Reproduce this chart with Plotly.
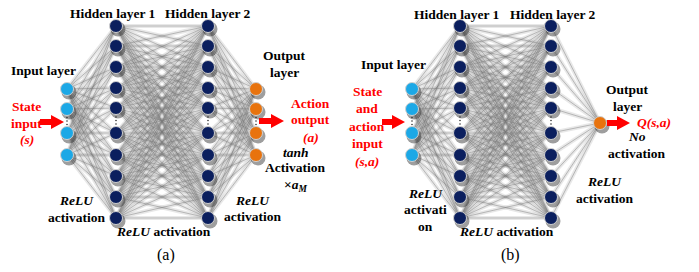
import plotly.graph_objects as go

# ---- network structure (pixel layout of the diagram) ----
HIDDEN_Y = [26, 46, 67, 88, 108, 133, 155, 176, 197, 218]
INPUT_Y = [89, 109, 133, 155]
OUTPUT_Y_A = [89, 109, 133, 155]
OUTPUT_Y_B = [123]

LAYER_X_A = [67, 116, 208, 256]
LAYER_X_B = [412, 460, 551, 600]

IN_COLOR = "#1ca8e6"
HID_COLOR = "#0b1f5e"
OUT_COLOR = "#e8730e"
RED = "#ff0000"
FONT = "Liberation Serif"

# arrows: (x_start, x_tip, y)
ARROWS = [(40, 64, 122), (259, 284, 121), (382, 405, 122), (607, 630, 123)]

# text labels: (x, y, text, color, size)
LABELS = [
    # panel (a)
    (113, 13, "Hidden layer 1", "black", 13.5),
    (208, 13, "Hidden layer 2", "black", 13.5),
    (43, 70, "Input layer", "black", 13.5),
    (284, 55, "Output", "black", 13.5),
    (284, 72, "layer", "black", 13.5),
    (26, 106, "State", RED, 13.5),
    (26, 123, "input", RED, 13.5),
    (27, 139, "<i>(s)</i>", RED, 13.5),
    (310, 103, "Action", RED, 13.5),
    (310, 119, "output", RED, 13.5),
    (311, 137, "<i>(a)</i>", RED, 13.5),
    (296, 152, "<i>tanh</i>", "black", 13.5),
    (295, 167, "Activation", "black", 13.5),
    (295, 185, "×<i>a</i><sub><i>M</i></sub>", "black", 13.5),
    (76, 200, "<i>ReLU</i>", "black", 13.5),
    (76, 217, "activation", "black", 13.5),
    (163, 231, "<i>ReLU</i> activation", "black", 13.5),
    (252, 200, "<i>ReLU</i>", "black", 13.5),
    (252, 216, "activation", "black", 13.5),
    # panel (b)
    (457, 14, "Hidden layer 1", "black", 13.5),
    (553, 14, "Hidden layer 2", "black", 13.5),
    (393, 64, "Input layer", "black", 13.5),
    (367, 91, "State", RED, 13.5),
    (367, 108, "and", RED, 13.5),
    (367, 126, "action", RED, 13.5),
    (367, 143, "input", RED, 13.5),
    (367, 161, "<i>(s,a)</i>", RED, 13.5),
    (627, 89, "Output", "black", 13.5),
    (627, 106, "layer", "black", 13.5),
    (654, 122, "<i>Q(s,a)</i>", RED, 13.5),
    (637, 136, "<i>No</i>", "black", 13.5),
    (636, 153, "activation", "black", 13.5),
    (604, 181, "<i>ReLU</i>", "black", 13.5),
    (604, 198, "activation", "black", 13.5),
    (425, 193, "<i>ReLU</i>", "black", 13.5),
    (425, 209, "activati", "black", 13.5),
    (425, 226, "on", "black", 13.5),
    (506, 231, "<i>ReLU</i> activation", "black", 13.5),
]
CAPTIONS = [(166, 255, "(a)"), (510, 255, "(b)")]

fig = go.Figure()


def edges(xa, ya, xb, yb):
    xs, ys = [], []
    for y1 in ya:
        for y2 in yb:
            xs += [xa, xb, None]
            ys += [y1, y2, None]
    return xs, ys


for lx, out_y in [(LAYER_X_A, OUTPUT_Y_A), (LAYER_X_B, OUTPUT_Y_B)]:
    layers = [INPUT_Y, HIDDEN_Y, HIDDEN_Y, out_y]
    for i in range(3):
        xs, ys = edges(lx[i], layers[i], lx[i + 1], layers[i + 1])
        fig.add_trace(go.Scatter(x=xs, y=ys, mode="lines",
                                 line=dict(color="rgba(150,150,150,0.22)", width=4),
                                 hoverinfo="skip", showlegend=False))
        fig.add_trace(go.Scatter(x=xs, y=ys, mode="lines",
                                 line=dict(color="rgba(120,120,120,0.5)", width=0.9),
                                 hoverinfo="skip", showlegend=False))
    colors = [IN_COLOR, HID_COLOR, HID_COLOR, OUT_COLOR]
    for i in range(4):
        xs = [lx[i]] * len(layers[i])
        fig.add_trace(go.Scatter(x=[x + 2 for x in xs], y=[y + 3 for y in layers[i]],
                                 mode="markers",
                                 marker=dict(size=15, color="rgba(40,40,40,0.45)"),
                                 hoverinfo="skip", showlegend=False))
        fig.add_trace(go.Scatter(x=xs, y=layers[i], mode="markers",
                                 marker=dict(size=13, color=colors[i],
                                             line=dict(color="#d0d0d0", width=1)),
                                 hoverinfo="skip", showlegend=False))
        if len(layers[i]) > 1:
            ys = layers[i]
            ymid = (ys[1] + ys[2]) / 2 if len(ys) == 4 else (ys[4] + ys[5]) / 2
            fig.add_trace(go.Scatter(x=[lx[i]] * 3, y=[ymid - 3.5, ymid, ymid + 3.5],
                                     mode="markers",
                                     marker=dict(size=1.6, color="#333"),
                                     hoverinfo="skip", showlegend=False))

shapes = []
for x0, xt, y in ARROWS:
    xb = xt - 13
    path = (f"M {x0},{y-3} L {xb},{y-3} L {xb},{y-7} L {xt},{y} "
            f"L {xb},{y+7} L {xb},{y+3} L {x0},{y+3} Z")
    shapes.append(dict(type="path", path=path, xref="x", yref="y",
                       fillcolor=RED, line=dict(width=0)))

annotations = []
for x, y, t, c, s in LABELS:
    annotations.append(dict(x=x, y=y, text=f"<b>{t}</b>", showarrow=False,
                            xref="x", yref="y", xanchor="center", yanchor="middle",
                            font=dict(family=FONT, size=s, color=c)))
for x, y, t in CAPTIONS:
    annotations.append(dict(x=x, y=y, text=t, showarrow=False,
                            xref="x", yref="y", xanchor="center", yanchor="middle",
                            font=dict(family=FONT, size=16, color="black")))

fig.update_layout(
    width=699, height=272,
    margin=dict(l=0, r=0, t=0, b=0),
    paper_bgcolor="white", plot_bgcolor="white",
    font=dict(family=FONT),
    xaxis=dict(range=[0, 699], visible=False, fixedrange=True),
    yaxis=dict(range=[272, 0], visible=False, fixedrange=True),
    shapes=shapes, annotations=annotations, showlegend=False,
)
fig.write_html("out.html", config={"displayModeBar": False},
               post_script="document.body.style.margin='0';document.body.style.overflow='hidden';")
